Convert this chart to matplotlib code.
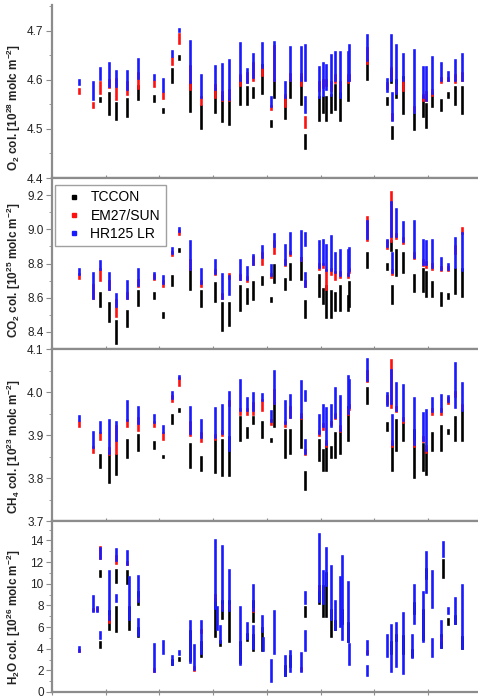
import numpy as np
import matplotlib
matplotlib.use('Agg')
import matplotlib.pyplot as plt
from matplotlib.lines import Line2D
from matplotlib.ticker import MultipleLocator, FormatStrFormatter

plt.rcParams['font.family'] = ['Liberation Sans', 'DejaVu Sans']
plt.rcParams['mathtext.fontset'] = 'custom'
plt.rcParams['mathtext.rm'] = 'Liberation Sans'
plt.rcParams['mathtext.bf'] = 'Liberation Sans:bold'

nan = np.nan
N = (nan, nan)

# measurement days (days since campaign start); the last 16 entries are
# second segments of days that show a gap
days = [15, 23, 27, 32, 36, 42, 48, 57, 62, 67,
        71, 77, 83, 91, 95, 99, 105, 109, 112, 117,
        122, 124, 130, 133, 139, 141, 149, 151, 153, 156,
        158, 161, 165, 166, 176, 187, 189, 190, 192, 196,
        202, 207, 209, 212, 217, 221, 225, 229,
        27, 25, 36, 43, 48, 79, 92, 94, 112, 118, 141, 162, 176, 201, 212, 218]

# each entry: (daily min, daily max) of the column
o2_tccon = [N, N, (4.557, 4.564), (4.530, 4.574), (4.520, 4.554), (4.527, 4.561), (4.561, 4.588), (4.557, 4.567), (4.534, 4.540), (4.595, 4.622),
            (4.642, 4.649), (4.537, 4.595), (4.503, 4.547), (4.534, 4.581), (4.517, 4.567), (4.510, 4.561), (4.552, 4.607), (4.552, 4.586), (4.566, 4.583), (4.573, 4.630),
            (4.507, 4.517), (4.565, 4.600), (4.522, 4.566), (4.566, 4.600), (4.552, 4.607), (4.461, 4.488), (4.518, 4.566), (4.535, 4.566), (4.518, 4.566), (4.535, 4.570),
            (4.540, 4.590), (4.518, 4.573), (4.560, 4.600), N, (4.603, 4.641), (4.550, 4.563), (4.595, 4.620), (4.481, 4.505), (4.566, 4.600), (4.532, 4.607),
            (4.500, 4.530), (4.526, 4.566), (4.505, 4.552), (4.546, 4.573), (4.539, 4.559), (4.566, 4.573), (4.552, 4.586), (4.532, 4.586),
            N, N, N, N, N, N, N, N, N, N, N, N, N, N, N, N]
o2_em27 = [(4.574, 4.581), (4.544, 4.554), (4.574, 4.595), (4.585, 4.600), (4.561, 4.601), (4.572, 4.595), (4.584, 4.615), (4.588, 4.598), (4.564, 4.574), (4.632, 4.645),
           (4.676, 4.693), (4.581, 4.628), (4.550, 4.565), (4.565, 4.590), (4.560, 4.575), (4.560, 4.580), (4.590, 4.610), (4.595, 4.615), (4.600, 4.635), (4.610, 4.627),
           (4.540, 4.546), (4.600, 4.670), (4.546, 4.570), (4.600, 4.613), (4.590, 4.613), N, (4.580, 4.595), (4.585, 4.600), (4.590, 4.600), (4.580, 4.595),
           (4.595, 4.610), (4.580, 4.595), (4.595, 4.610), (4.600, 4.610), (4.635, 4.665), (4.584, 4.594), (4.605, 4.625), (4.520, 4.530), (4.575, 4.590), (4.580, 4.600),
           (4.537, 4.545), (4.560, 4.570), (4.560, 4.575), (4.570, 4.580), (4.595, 4.605), (4.600, 4.605), (4.595, 4.610), (4.600, 4.615),
           N, N, N, N, N, N, N, N, N, N, (4.505, 4.525), N, N, N, N, N]
o2_hr125 = [(4.591, 4.600), (4.561, 4.595), (4.601, 4.625), (4.588, 4.635), (4.588, 4.618), (4.581, 4.618), (4.605, 4.642), (4.601, 4.611), (4.578, 4.601), (4.649, 4.659),
            (4.700, 4.704), (4.595, 4.679), (4.565, 4.610), (4.581, 4.628), (4.561, 4.632), (4.561, 4.640), (4.600, 4.675), (4.595, 4.622), (4.607, 4.654), (4.627, 4.675),
            (4.546, 4.566), (4.600, 4.678), (4.566, 4.596), (4.600, 4.668), (4.600, 4.668), (4.600, 4.671), (4.566, 4.627), (4.570, 4.634), (4.581, 4.630), (4.570, 4.650),
            (4.600, 4.658), (4.566, 4.658), (4.600, 4.658), (4.600, 4.672), (4.640, 4.691), (4.578, 4.601), (4.600, 4.691), (4.518, 4.573), (4.573, 4.671), (4.600, 4.654),
            (4.535, 4.661), (4.566, 4.627), (4.559, 4.627), (4.573, 4.647), (4.600, 4.634), (4.600, 4.617), (4.600, 4.641), (4.600, 4.654),
            N, N, N, N, N, N, N, N, N, N, (4.535, 4.565), N, N, N, N, N]

co2_tccon = [N, N, (8.55, 8.628), (8.462, 8.570), (8.336, 8.462), (8.433, 8.521), (8.560, 8.638), (8.599, 8.628), (8.49, 8.51), (8.677, 8.726),
             (8.875, 8.885), (8.648, 8.765), (8.550, 8.638), (8.580, 8.687), (8.414, 8.570), (8.443, 8.570), (8.530, 8.667), (8.57, 8.65), (8.59, 8.69), (8.68, 8.72),
             (8.58, 8.60), (8.69, 8.79), (8.65, 8.71), (8.71, 8.80), (8.71, 8.83), (8.49, 8.58), (8.61, 8.73), (8.57, 8.65), (8.49, 8.67), (8.49, 8.64),
             (8.53, 8.63), (8.53, 8.67), (8.53, 8.61), (8.55, 8.69), (8.78, 8.86), (8.77, 8.80), (8.88, 8.93), (8.57, 8.67), (8.73, 8.88), (8.75, 8.86),
             (8.64, 8.73), (8.64, 8.77), (8.61, 8.75), (8.61, 8.69), (8.56, 8.63), (8.60, 8.62), (8.63, 8.77), (8.61, 8.77),
             N, N, N, N, N, N, N, N, N, N, N, N, N, N, N, N]
co2_em27 = [(8.716, 8.736), (8.599, 8.677), (8.706, 8.765), (8.65, 8.70), (8.492, 8.589), (8.599, 8.63), (8.667, 8.706), (8.71, 8.73), (8.667, 8.70), (8.85, 8.87),
            (8.97, 8.99), (8.765, 8.82), (8.67, 8.70), (8.74, 8.76), (8.60, 8.62), (8.716, 8.736), (8.71, 8.73), (8.70, 8.72), (8.80, 8.84), (8.80, 8.86),
            (8.72, 8.74), (8.86, 8.93), (8.79, 8.82), (8.85, 8.87), (8.82, 8.83), N, (8.77, 8.80), (8.78, 8.80), (8.65, 8.76), (8.74, 8.77),
            (8.71, 8.75), (8.72, 8.75), (8.72, 8.74), (8.75, 8.77), (8.94, 9.07), (8.89, 8.93), (8.93, 9.22), (8.74, 8.76), (8.95, 8.97), (8.92, 8.95),
            (8.83, 8.86), (8.79, 8.82), (8.78, 8.81), (8.77, 8.80), (8.76, 8.78), (8.76, 8.78), (8.86, 8.90), (8.98, 9.01),
            N, N, N, N, N, N, N, N, N, N, (8.667, 8.70), N, N, N, N, N]
co2_hr125 = [(8.736, 8.765), (8.60, 8.745), (8.765, 8.814), (8.648, 8.745), (8.550, 8.619), (8.599, 8.697), (8.677, 8.765), (8.716, 8.745), (8.687, 8.726), (8.862, 8.892),
             (8.99, 9.01), (8.765, 8.93), (8.687, 8.765), (8.745, 8.823), (8.599, 8.736), (8.619, 8.726), (8.71, 8.82), (8.71, 8.78), (8.80, 8.85), (8.84, 8.90),
             (8.73, 8.79), (8.90, 8.97), (8.80, 8.91), (8.86, 8.98), (8.82, 8.99), (8.91, 8.98), (8.78, 8.93), (8.80, 8.94), (8.76, 8.91), (8.76, 8.96),
             (8.75, 8.86), (8.73, 8.88), (8.73, 8.88), (8.76, 8.89), (8.95, 9.05), (8.90, 8.94), (8.96, 9.16), (8.75, 8.86), (8.96, 9.12), (8.93, 9.04),
             (8.84, 9.05), (8.80, 8.94), (8.80, 8.93), (8.78, 8.94), (8.77, 8.83), (8.77, 8.80), (8.78, 8.95), (8.76, 8.98),
             N, N, N, N, N, N, N, N, N, N, (8.667, 8.745), N, N, N, N, N]

ch4_tccon = [N, N, (3.826, 3.853), (3.791, 3.857), (3.810, 3.853), (3.849, 3.888), (3.865, 3.900), (3.869, 3.884), (3.848, 3.852), (3.927, 3.947),
             (3.955, 3.960), (3.826, 3.880), (3.818, 3.849), (3.814, 3.888), (3.806, 3.888), (3.806, 3.896), (3.888, 3.943), (3.896, 3.916), (3.927, 3.943), (3.896, 3.931),
             (3.886, 3.890), (3.920, 3.974), (3.849, 3.912), (3.857, 3.912), (3.873, 3.943), (3.775, 3.814), (3.841, 3.888), (3.818, 3.865), (3.818, 3.880), (3.849, 3.873),
             (3.849, 3.904), (3.857, 3.912), (3.888, 3.966), N, (3.974, 4.009), (3.912, 3.927), N, (3.818, 3.880), (3.865, 3.935), (3.888, 3.927),
             (3.802, 3.912), (3.818, 3.880), (3.810, 3.865), (3.865, 3.904), (3.865, 3.920), (3.905, 3.912), (3.888, 3.943), (3.888, 3.959),
             N, N, N, N, N, N, N, N, N, N, N, N, N, N, N, N]
ch4_em27 = [(3.921, 3.931), (3.861, 3.873), (3.890, 3.905), (3.855, 3.870), (3.857, 3.920), (3.920, 3.935), (3.912, 3.939), (3.920, 3.931), (3.890, 3.905), (3.978, 3.990),
            (4.017, 4.033), (3.900, 3.930), (3.885, 3.905), (3.890, 3.900), (3.900, 3.910), (3.970, 3.980), (3.950, 3.960), (3.950, 3.960), (3.950, 3.975), (3.959, 3.982),
            (3.925, 3.935), (3.974, 4.005), (3.920, 3.930), (3.943, 3.966), (3.940, 3.950), N, (3.900, 3.910), (3.915, 3.925), (3.875, 3.885), (3.925, 3.930),
            (3.940, 3.950), (3.910, 3.920), (3.950, 3.960), (3.960, 3.970), (4.025, 4.048), (3.974, 3.990), (3.965, 4.075), (3.875, 3.885), (3.955, 3.965), (3.930, 3.940),
            (3.875, 3.885), (3.885, 3.895), (3.860, 3.875), (3.950, 3.960), (3.950, 3.960), (3.975, 3.985), (3.990, 4.000), (3.960, 3.970),
            N, N, N, N, N, N, N, N, N, N, (3.855, 3.865), N, N, N, N, N]
ch4_hr125 = [(3.935, 3.945), (3.873, 3.908), (3.908, 3.931), (3.857, 3.935), (3.888, 3.931), (3.935, 3.978), (3.927, 3.966), (3.931, 3.947), (3.908, 3.920), (3.986, 4.000),
             (4.033, 4.038), (3.904, 3.966), (3.896, 3.935), (3.896, 3.962), (3.904, 3.970), (3.865, 4.000), (3.959, 4.029), (3.959, 3.986), (3.959, 3.998), (3.982, 3.995),
             (3.932, 3.955), (3.974, 4.048), (3.927, 3.978), (3.943, 3.994), (3.943, 4.025), (3.982, 4.002), (3.904, 3.947), (3.920, 3.970), (3.880, 3.962), (3.920, 3.970),
             (3.943, 4.010), (3.912, 3.990), (3.951, 4.037), (3.966, 4.029), (4.029, 4.076), (3.970, 3.998), (3.974, 4.052), (3.880, 3.947), (3.959, 4.021), (3.935, 4.017),
             (3.880, 3.986), (3.888, 3.951), (3.865, 3.959), (3.955, 3.986), (3.955, 3.994), (3.978, 3.990), (3.966, 4.068), (3.959, 4.021),
             N, N, N, N, N, N, N, N, N, N, (3.857, 3.888), N, N, N, N, N]

h2o_tccon = [N, N, (10.7, 11.2), (5.8, 7.5), (10.2, 11.3), (10.1, 11.2), (8.1, 9.2), N, N, (2.6, 3.0),
             (3.0, 3.1), (3.0, 5.6), (3.3, 4.6), (5.2, 8.6), (6.8, 8.4), (4.7, 8.4), (2.8, 4.6), (4.8, 5.4), (6.6, 8.4), (3.9, 5.9),
             N, N, (1.6, 2.4), (2.4, 3.3), N, N, (8.2, 9.8), (7.0, 9.8), (7.0, 11.0), (5.2, 7.6),
             (5.8, 6.6), N, (4.7, 6.4), N, N, N, (3.6, 4.6), N, (4.8, 5.3), (3.6, 5.2),
             (7.3, 8.2), (4.9, 7.6), (10.5, 11.4), N, (4.2, 5.3), (6.3, 6.7), (6.4, 7.0), (4.1, 5.1),
             (4.2, 4.6), N, (5.6, 7.9), (5.8, 7.9), (5.2, 5.9), N, N, (4.3, 4.7), (3.9, 5.3), N, (7.0, 7.9), (6.4, 7.6), N, (3.3, 3.9), N, (10.6, 12.2)]
h2o_em27 = [(3.8, 3.9), (7.6, 7.7), (12.4, 13.4), (6.5, 7.0), (11.9, 12.6), (11.8, 12.0), (8.5, 8.7), (1.9, 2.1), N, N,
            N, N, (5.5, 5.7), (8.5, 9.0), (7.8, 8.0), (7.8, 8.0), N, N, (7.5, 7.7), N,
            N, N, N, N, (2.0, 2.2), N, (9.5, 9.7), N, N, N,
            N, N, N, N, (3.6, 3.8), N, N, N, N, N,
            N, N, N, N, (4.8, 5.0), N, N, N,
            N, (7.6, 7.8), N, N, N, (2.0, 2.3), N, N, N, N, N, N, N, N, N, N]
h2o_hr125 = [(3.8, 4.2), (7.5, 8.9), (12.4, 13.3), (6.7, 11.2), (12.2, 13.2), (11.8, 13.0), (8.4, 10.7), (1.9, 4.4), (3.6, 4.7), (2.6, 3.3),
             (3.5, 3.8), (2.8, 6.6), (3.6, 6.6), (7.8, 14.0), (7.6, 13.5), (7.6, 11.3), (2.6, 7.9), (5.0, 6.4), (7.6, 9.9), (5.6, 7.0),
             (1.0, 3.0), (3.6, 7.5), (1.6, 3.3), (1.9, 3.8), (1.9, 3.6), (3.9, 5.6), (8.4, 14.6), (8.2, 11.2), (9.9, 13.3), (6.7, 11.6),
             (5.8, 8.4), (6.1, 10.6), (4.7, 10.2), (2.6, 4.4), (3.5, 4.7), (3.3, 5.3), (1.9, 6.2), N, (2.4, 6.4), (1.8, 7.3),
             (6.4, 9.9), (4.7, 9.2), (9.2, 12.9), (7.9, 11.2), (4.2, 6.6), (7.3, 7.8), (6.4, 8.7), (4.1, 9.9),
             (5.0, 5.5), (7.5, 7.9), (8.4, 9.0), (6.7, 10.6), (5.3, 6.7), (2.1, 4.3), (5.8, 7.9), (4.6, 6.1), (4.1, 6.1), (3.9, 5.0),
             (8.2, 9.2), (4.9, 12.6), (1.6, 2.4), (3.2, 5.3), (3.3, 4.9), (12.6, 13.9)]

series_names = ['TCCON', 'EM27/SUN', 'HR125 LR']
series_colors = ['black', '#ff1010', '#1a1aff']

panels = [
    (o2_tccon, o2_em27, o2_hr125, r'O$_\mathbf{2}$ col. [10$^\mathbf{28}$ molc m$^\mathbf{-2}$]',
     (4.4, 4.753), 0.1, 0.05, '%.1f', 0.41),
    (co2_tccon, co2_em27, co2_hr125, r'CO$_\mathbf{2}$ col. [10$^\mathbf{25}$ molc m$^\mathbf{-2}$]',
     (8.3, 9.3), 0.2, 0.1, '%.1f', 0.46),
    (ch4_tccon, ch4_em27, ch4_hr125, r'CH$_\mathbf{4}$ col. [10$^\mathbf{23}$ molc m$^\mathbf{-2}$]',
     (3.7, 4.1), 0.1, 0.05, '%.1f', 0.43),
    (h2o_tccon, h2o_em27, h2o_hr125, r'H$_\mathbf{2}$O col. [10$^\mathbf{26}$ molc m$^\mathbf{-2}$]',
     (0, 15.8), 2, 1, '%d', 0.44),
]

W, H = 478, 698
edges = [(5, 178), (178, 349), (349, 521), (521, 692)]
spine_c = '#8c8c8c'

fig = plt.figure(figsize=(W / 100, H / 100), dpi=100)
x = np.array(days, dtype=float)

for i, (tc, em, hr, lab, ylim, maj, mnr, fmt, lpos) in enumerate(panels):
    top, bot = edges[i]
    ax = fig.add_axes([52 / W, 1 - bot / H, 430 / W, (bot - top) / H])
    for z, (ser, c) in enumerate(zip((tc, em, hr), series_colors)):
        a = np.array(ser, dtype=float)
        ok = ~np.isnan(a[:, 0])
        ax.vlines(x[ok], a[ok, 0], a[ok, 1], colors=c, linewidth=1.9,
                  capstyle='projecting', zorder=2 + z)
    ax.set_xlim(0, 240)
    ax.set_ylim(*ylim)
    ax.xaxis.set_major_locator(MultipleLocator(30))
    ax.yaxis.set_major_locator(MultipleLocator(maj))
    ax.yaxis.set_minor_locator(MultipleLocator(mnr))
    ax.yaxis.set_major_formatter(FormatStrFormatter(fmt))
    ax.tick_params(axis='x', which='both', bottom=True, top=False, direction='inout',
                   length=5, color=spine_c, labelbottom=False)
    ax.tick_params(axis='y', which='major', direction='out', length=4, color=spine_c,
                   labelsize=8.5, labelcolor='#222222', pad=2)
    ax.tick_params(axis='y', which='minor', direction='out', length=2, color=spine_c)
    for s in ax.spines.values():
        s.set_color(spine_c)
        s.set_linewidth(1.6)
    ax.spines['right'].set_visible(False)
    if i == 0:
        ax.spines['top'].set_visible(False)
    ax.set_ylabel(lab, fontsize=8.5, fontweight='bold', color='#222222')
    ax.yaxis.set_label_coords(-0.068, lpos)
    if i == 1:
        handles = [Line2D([], [], linestyle='none', marker='s', markersize=3.2,
                          color=c) for c in series_colors]
        ax.legend(handles, series_names, loc='upper left', bbox_to_anchor=(0.007, 0.96),
                  fontsize=10, frameon=True, fancybox=False, edgecolor='#888888',
                  handlelength=2.0, handletextpad=0.15, labelspacing=0.3,
                  borderpad=0.4, borderaxespad=0)

fig.savefig('out.png', dpi=100)
